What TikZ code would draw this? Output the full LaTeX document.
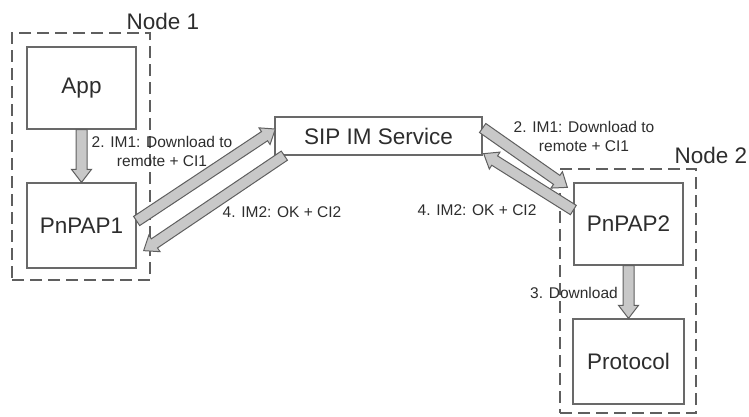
\documentclass[tikz,border=0pt]{standalone}
\usepackage{xcolor}
\usepackage{fontspec}
\setmainfont{Liberation Sans}
\usepackage{tikz}
\usetikzlibrary{calc}
\definecolor{boxgray}{RGB}{105,105,105}
\definecolor{dashgray}{RGB}{95,95,95}
\definecolor{arrowfill}{RGB}{200,200,200}
\definecolor{arrowline}{RGB}{95,95,95}
\definecolor{textgray}{RGB}{45,45,45}

% block arrow from #1 to #2 (shaft half width 5.5pt, head half width 10pt, head length 13pt)
\newcommand{\fatarrow}[2]{%
    \coordinate (fa-s) at (#1);
    \coordinate (fa-t) at (#2);
    \coordinate (fa-h) at ($(fa-t)!13pt!(fa-s)$);
    \filldraw[fill=arrowfill,draw=arrowline,line width=1pt,line join=miter]
        ($(fa-s)!5.5pt!90:(fa-t)$) -- ($(fa-h)!5.5pt!-90:(fa-s)$) --
        ($(fa-h)!10pt!-90:(fa-s)$) -- (fa-t) -- ($(fa-h)!10pt!90:(fa-s)$) --
        ($(fa-h)!5.5pt!90:(fa-s)$) -- ($(fa-s)!5.5pt!-90:(fa-t)$) -- cycle;
}

\begin{document}
\begin{tikzpicture}[x=1pt,y=-1pt,
        box/.style={draw=boxgray,line width=1.3pt,fill=white,text=textgray,
            font=\fontsize{22.5}{26}\selectfont},
        group/.style={draw=dashgray,line width=1.3pt,dash pattern=on 12pt off 6pt},
        grouplabel/.style={text=textgray,font=\fontsize{22.5}{26}\selectfont},
        msg/.style={text=textgray,align=center,font=\fontsize{15.5}{19}\selectfont}]
    \useasboundingbox (0,0) rectangle (749,416);

    % dashed node frames
    \node[group,minimum width=138pt,minimum height=247pt] (grp1) at (81,156.5) {};
    \node[group,minimum width=136pt,minimum height=244pt] (grp2) at (628,291) {};
    \node[grouplabel] (lblnode1) at (163,21) {Node 1};
    \node[grouplabel] (lblnode2) at (711,155) {Node 2};

    % boxes
    \node[box,minimum width=109pt,minimum height=82pt] (app) at (81.5,88) {App};
    \node[box,minimum width=109pt,minimum height=85pt] (pnpap1) at (81.5,225.5) {PnPAP1};
    \node[box,minimum width=207pt,minimum height=38pt] (sip) at (378.5,136) {SIP IM Service};
    \node[box,minimum width=109pt,minimum height=82pt] (pnpap2) at (628.5,224) {PnPAP2};
    \node[box,minimum width=111pt,minimum height=85pt] (proto) at (628.5,361.5) {Protocol};

    % messages
    \fatarrow{app.south}{pnpap1.north}
    \fatarrow{[yshift=4.5pt]pnpap1.east}{[xshift=1pt,yshift=7pt]sip.west}
    \fatarrow{[xshift=10pt]sip.south west}{[xshift=7pt,yshift=18pt]pnpap1.south east}
    \fatarrow{[yshift=8pt]sip.east}{[xshift=-6pt,yshift=-5pt]pnpap2.north west}
    \fatarrow{[yshift=14pt]pnpap2.west}{[xshift=1pt,yshift=2pt]sip.south east}
    \fatarrow{pnpap2.south}{proto.north}

    % labels
    \node[msg] (msg1l) at (162,151) {2. IM1: Download to\\remote + CI1};
    \node[msg] (msg4l) at (282,212) {4. IM2: OK + CI2};
    \node[msg] (msg1r) at (584,136) {2. IM1: Download to\\remote + CI1};
    \node[msg] (msg4r) at (477,210) {4. IM2: OK + CI2};
    \node[msg] (msg3) at (574,293) {3. Download};
\end{tikzpicture}
\end{document}
